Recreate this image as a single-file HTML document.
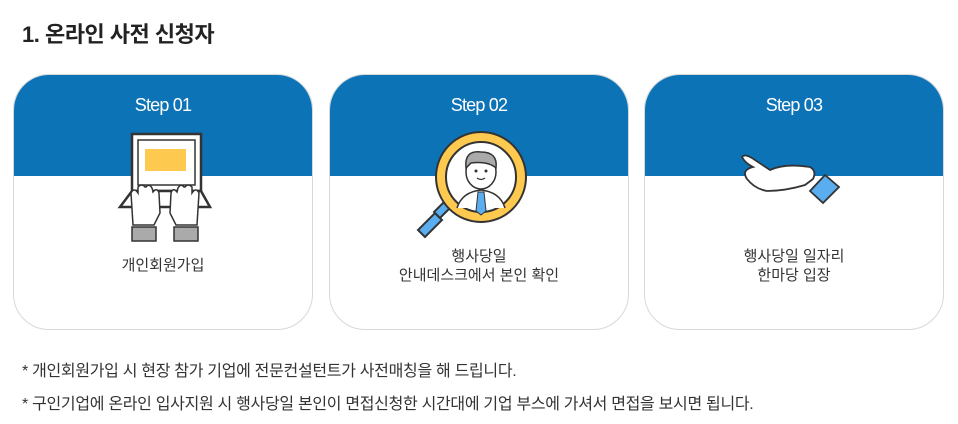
<!DOCTYPE html>
<html><head><meta charset="utf-8"><style>
body{margin:0;width:958px;height:424px;background:#fff;font-family:"Liberation Sans","Noto Sans CJK KR",sans-serif;position:relative;overflow:hidden;color:#333}
.t{position:absolute;left:22px;top:17px;font-size:22px;font-weight:bold;color:#222;letter-spacing:-0.5px}
.card{position:absolute;top:74px;width:298px;height:254px;border:1px solid #d8d8d8;border-radius:36px;overflow:hidden;background:#fff}
.card .top{position:absolute;left:0;top:0;width:100%;height:101px;background:#0d73b7}
.card .s{position:absolute;top:20px;width:100%;text-align:center;color:#fff;font-size:18px;letter-spacing:-0.8px}
.card .l{position:absolute;width:100%;text-align:center;font-size:15px;line-height:19px;color:#333}
.card svg{position:absolute;left:0;top:0}
.n{position:absolute;left:22px;font-size:16px;color:#333;letter-spacing:-0.3px}
</style></head><body>
<div class="t">1. 온라인 사전 신청자</div>

<div class="card" style="left:13px">
<div class="top"></div><div class="s">Step 01</div>
<svg width="298" height="254">
<rect x="118" y="59" width="69" height="57" fill="#fff" stroke="#333" stroke-width="2.5"/>
<rect x="124" y="65" width="57" height="45" fill="#fff" stroke="#333" stroke-width="1.5"/>
<rect x="131" y="74" width="41" height="22" fill="#fdc94f"/>
<path d="M118 116 L106 132 L196 132 L187 116 Z" fill="#fff" stroke="#333" stroke-width="2.5"/>
<path d="M119 150 L117 118 Q120 112 124 118 L124 112 Q128 108 131 112 L132 112 Q135 108 138 113 L139 117 Q143 112 145 118 L146 138 L140 150 Z" fill="#fff" stroke="#333" stroke-width="1.5"/>
<path d="M183 150 L185 118 Q182 112 178 118 L178 112 Q174 108 171 112 L170 112 Q167 108 164 113 L163 117 Q159 112 157 118 L156 138 L162 150 Z" fill="#fff" stroke="#333" stroke-width="1.5"/>
<rect x="118" y="152" width="24" height="14" fill="#aaa" stroke="#333" stroke-width="1.5"/>
<rect x="160" y="152" width="24" height="14" fill="#aaa" stroke="#333" stroke-width="1.5"/>
</svg>
<div class="l" style="top:181px">개인회원가입</div>
</div>

<div class="card" style="left:329px">
<div class="top"></div><div class="s">Step 02</div>
<svg width="298" height="254">
<path d="M95 162 L88 155 L105 138 L112 145 Z" fill="#5aaef0" stroke="#333" stroke-width="2"/>
<path d="M110 143 L104 137 L115 126 L121 132 Z" fill="#5aaef0" stroke="#333" stroke-width="2"/>
<circle cx="151" cy="102" r="45" fill="#fdc94f" stroke="#333" stroke-width="2"/>
<circle cx="151" cy="102" r="35" fill="#fff" stroke="#333" stroke-width="2"/>
<path d="M127 133 Q132 117 151 115 Q170 117 175 133" fill="#fff" stroke="#333" stroke-width="1.5"/>
<path d="M148 117 L154 117 L156 136 L151 140 L146 136 Z" fill="#5aaef0" stroke="#333" stroke-width="1"/>
<ellipse cx="151" cy="97" rx="15" ry="17" fill="#fff" stroke="#333" stroke-width="1.5"/>
<path d="M136 93 Q134 75 151 77 Q168 77 166 93 Q158 86 141 88 Z" fill="#aaa" stroke="#333" stroke-width="1.5"/>
<circle cx="146" cy="96" r="1.5" fill="#333"/><circle cx="156" cy="96" r="1.5" fill="#333"/>
<path d="M147 103 Q151 106 155 103" fill="none" stroke="#333" stroke-width="1.3"/>
</svg>
<div class="l" style="top:172px">행사당일<br>안내데스크에서 본인 확인</div>
</div>

<div class="card" style="left:644px">
<div class="top"></div><div class="s">Step 03</div>
<svg width="298" height="254">
<path d="M97 82 Q100 78 110 85 L125 95 Q140 88 165 92 Q172 96 168 104 L160 110 Q140 116 122 116 Q110 114 102 104 Q96 95 108 92 Q100 88 97 82 Z" fill="#fff" stroke="#333" stroke-width="1.8"/>
<path d="M165 116 L180 100 L194 112 L178 128 Z" fill="#5aaef0" stroke="#333" stroke-width="1.8"/>
</svg>
<div class="l" style="top:172px">행사당일 일자리<br>한마당 입장</div>
</div>

<div class="n" style="top:357px">* 개인회원가입 시 현장 참가 기업에 전문컨설턴트가 사전매칭을 해 드립니다.</div>
<div class="n" style="top:390px">* 구인기업에 온라인 입사지원 시 행사당일 본인이 면접신청한 시간대에 기업 부스에 가셔서 면접을 보시면 됩니다.</div>
</body></html>
